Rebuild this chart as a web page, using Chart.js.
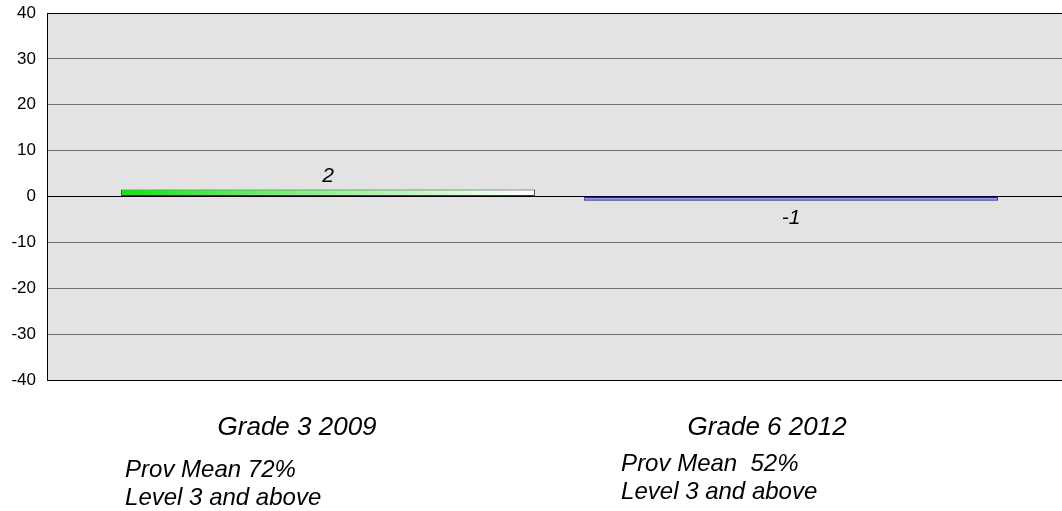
<!DOCTYPE html>
<html>
<head>
<meta charset="utf-8">
<script src="https://cdn.jsdelivr.net/npm/chart.js@4/dist/chart.umd.min.js"></script>
<style>
  body { margin: 0; background: #fff; }
  #wrap { width: 1062px; height: 511px; }
</style>
</head>
<body>
<div id="wrap"><canvas id="gapChart"></canvas></div>
<script>
const categories = ['Grade 3 2009', 'Grade 6 2012'];
const values = [1.5, -0.9];
const notes = [
    ['Prov Mean 72%', 'Level 3 and above'],
    ['Prov Mean  52%', 'Level 3 and above']
];
const yMin = -40, yMax = 40, yStep = 10;

// text placement relative to each bar centre (Excel put these off-centre)
const labelDx = [-31, -24];
const noteDx = [-203, -170];
const noteDy = [97, 91];
const BAR_PCT = 0.894;
const FONT = '"Liberation Sans", Arial, sans-serif';

function barFill(c) {
    const chart = c.chart;
    const xs = chart.scales.x, ys = chart.scales.y;
    const i = c.dataIndex;
    if (!xs || !ys || !chart.chartArea || i === undefined) return values[i] >= 0 ? '#00e600' : '#3a3ae0';
    const cx = xs.getPixelForValue(i);
    const half = (xs.getPixelForValue(1) - xs.getPixelForValue(0)) * BAR_PCT / 2;
    let g;
    if (values[i] >= 0) {
        g = chart.ctx.createLinearGradient(cx - half, 0, cx + half, 0);
        g.addColorStop(0, '#00f000');
        g.addColorStop(0.5, '#8ef58e');
        g.addColorStop(1, '#ffffff');
    } else {
        const y0 = ys.getPixelForValue(0), y1 = ys.getPixelForValue(values[i]);
        g = chart.ctx.createLinearGradient(0, y0, 0, y1);
        g.addColorStop(0, '#2a2ad4');
        g.addColorStop(0.5, '#9c9cf0');
        g.addColorStop(1, '#2a2ad4');
    }
    return g;
}

const plotBg = {
    id: 'plotBg',
    beforeDraw(chart) {
        const { ctx, chartArea: a } = chart;
        ctx.save();
        ctx.fillStyle = '#e3e3e3';
        ctx.fillRect(a.left, a.top, a.right - a.left, a.bottom - a.top);
        ctx.restore();
    }
};

const textBits = {
    id: 'textBits',
    afterDraw(chart) {
        const { ctx, chartArea: a } = chart;
        const xs = chart.scales.x;
        ctx.save();
        ctx.fillStyle = '#000';
        // value labels
        ctx.font = 'italic 21px ' + FONT;
        ctx.textAlign = 'center';
        ctx.textBaseline = 'alphabetic';
        chart.getDatasetMeta(0).data.forEach((bar, i) => {
            const txt = String(Math.round(values[i]));
            if (values[i] >= 0) ctx.fillText(txt, bar.x, bar.y - 8);
            else ctx.fillText(txt, bar.x, bar.y + 23);
        });
        // category labels
        ctx.font = 'italic 26px ' + FONT;
        categories.forEach((c, i) => {
            ctx.fillText(c, xs.getPixelForValue(i) + labelDx[i], a.bottom + 55);
        });
        // notes
        ctx.font = 'italic 24px ' + FONT;
        ctx.textAlign = 'left';
        notes.forEach((lines, i) => {
            lines.forEach((ln, j) => {
                ctx.fillText(ln, xs.getPixelForValue(i) + noteDx[i], a.bottom + noteDy[i] + j * 28);
            });
        });
        ctx.restore();
    }
};

new Chart(document.getElementById('gapChart').getContext('2d'), {
    type: 'bar',
    data: {
        datasets: [{
            data: values.map((v, i) => ({ x: i, y: v })),
            backgroundColor: barFill,
            borderColor: (c) => values[c.dataIndex] >= 0 ? '#3a3a3a' : '#1c1c96',
            borderWidth: 1,
            borderSkipped: false,
            barPercentage: BAR_PCT,
            categoryPercentage: 1
        }]
    },
    options: {
        responsive: true,
        maintainAspectRatio: false,
        animation: false,
        layout: { padding: 0 },
        plugins: { legend: { display: false }, tooltip: { enabled: false } },
        scales: {
            x: {
                type: 'linear',
                offset: false,
                min: -0.607,
                max: 1.585,
                afterBuildTicks: (s) => { s.ticks = categories.map((c, i) => ({ value: i })); },
                ticks: { display: false },
                grid: { display: false, offset: false },
                border: { display: true, color: '#000', width: 1 },
                afterFit: (s) => { s.height = 131; }
            },
            y: {
                min: yMin,
                max: yMax,
                ticks: {
                    stepSize: yStep,
                    padding: 11,
                    color: '#000',
                    font: { family: FONT, size: 17 }
                },
                grid: {
                    drawTicks: false,
                    color: (c) => (c.tick && (c.tick.value === 0 || c.tick.value === yMax || c.tick.value === yMin)) ? '#000' : '#6e6e6e',
                    lineWidth: 1
                },
                border: { display: true, color: '#000', width: 1 },
                afterFit: (s) => { s.width = 47; s.paddingTop = 13; s.paddingBottom = 0; }
            }
        }
    },
    plugins: [plotBg, textBits]
});
</script>
</body>
</html>
